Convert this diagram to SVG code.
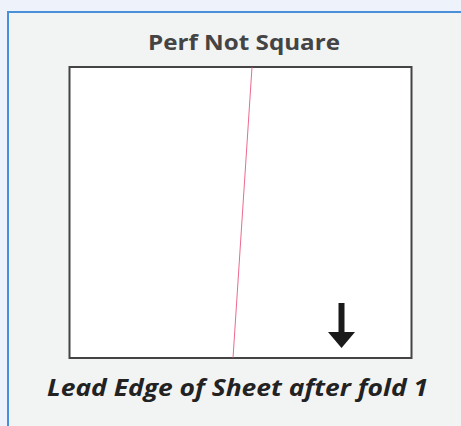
<svg xmlns="http://www.w3.org/2000/svg" width="461" height="426" viewBox="0 0 461 426">
<style>
.t{font-family:"Open Sans","Liberation Sans",sans-serif;font-weight:bold}
</style>
<rect x="0" y="0" width="461" height="426" fill="#EEF2FA"/>
<g id="panel">
<rect x="8" y="12" width="460" height="420" fill="#F2F3F3"/>
<line x1="8" y1="12" x2="461" y2="12" stroke="#4A90D9" stroke-width="2"/>
<line x1="8" y1="11" x2="8" y2="426" stroke="#4A90D9" stroke-width="2"/>
</g>
<g id="title">
<text class="t" x="244" y="50" font-size="22" fill="#444" text-anchor="middle" textLength="192" lengthAdjust="spacingAndGlyphs">Perf Not Square</text>
</g>
<g id="sheet">
<rect x="69.5" y="67" width="342" height="291" fill="#FFFFFF" stroke="#444" stroke-width="2"/>
</g>
<g id="connectors">
<line x1="252" y1="67" x2="233" y2="358" stroke="#E8507A" stroke-width="1" stroke-opacity="0.85"/>
</g>
<g id="arrow">
<rect x="338.5" y="303" width="6" height="32" fill="#1a1a1a"/>
<polygon points="328,332 355,332 341.5,348" fill="#1a1a1a"/>
</g>
<g id="caption">
<text class="t" x="47" y="396" font-size="23" font-style="italic" fill="#222" textLength="381" lengthAdjust="spacingAndGlyphs">Lead Edge of Sheet after fold 1</text>
</g>
</svg>
